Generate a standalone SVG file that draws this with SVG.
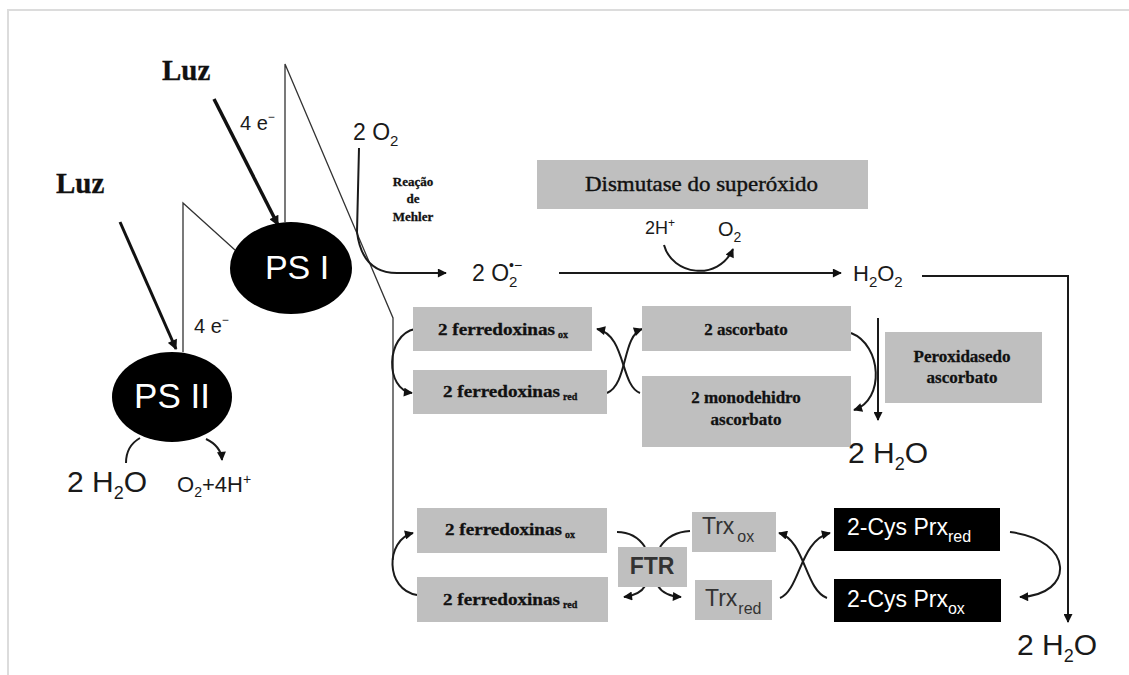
<svg xmlns="http://www.w3.org/2000/svg" width="1129" height="675" viewBox="0 0 1129 675">
<defs>
<marker id="ah" viewBox="0 0 10 10" refX="9" refY="5" markerWidth="10" markerHeight="9" markerUnits="userSpaceOnUse" orient="auto"><path d="M0,0 L10,5 L0,10 z" fill="#111"/></marker>
<marker id="ahL" viewBox="0 0 10 10" refX="9" refY="5" markerWidth="12" markerHeight="10" markerUnits="userSpaceOnUse" orient="auto"><path d="M0,0 L10,5 L0,10 z" fill="#111"/></marker>
<style>
.s{font-family:"Liberation Sans",Arial,sans-serif;fill:#1a1a1a}
.b{font-family:"Liberation Serif","Times New Roman",serif;font-weight:bold;fill:#111;stroke:#111;stroke-width:0.3}
.r{font-family:"Liberation Serif","Times New Roman",serif;fill:#111;stroke:#111;stroke-width:0.4}
.box{fill:#bfbfbf}
.blk{fill:#000}
.ln{fill:none;stroke:#1a1a1a;stroke-width:2}
.thin{fill:none;stroke:#333;stroke-width:1.3}
.w{font-family:"Liberation Sans",Arial,sans-serif;fill:#fff}
</style>
</defs>
<rect x="0" y="0" width="1129" height="675" fill="#fff"/>
<path d="M8,675 V10 H1129" fill="none" stroke="#dcdcdc" stroke-width="2"/>

<g id="connectors">
  <line x1="214" y1="99" x2="278" y2="225" stroke="#111" stroke-width="3.5" marker-end="url(#ahL)"/>
  <line x1="120" y1="222" x2="176" y2="349" stroke="#111" stroke-width="3" marker-end="url(#ahL)"/>
  <path class="thin" d="M285,222 V64 L393,318 V560"/>
  <path class="thin" d="M183,352 V203 L235,250"/>
  <path class="ln" d="M140,438 Q126,446 126,463"/>
  <path class="ln" d="M206,439 Q221,446 222,460" marker-end="url(#ah)"/>
  <path class="ln" d="M359,148 L357,232 Q362,273 397,273 L446,273" marker-end="url(#ah)"/>
  <line class="ln" x1="559" y1="273" x2="841" y2="273" marker-end="url(#ah)"/>
  <path class="ln" d="M664,245 C672,275 718,282 733,249" marker-end="url(#ah)"/>
  <path class="ln" d="M922,276 H1068 V622" marker-end="url(#ah)"/>
  <path class="ln" d="M415,329 C385,335 385,390 412,393" marker-end="url(#ah)"/>
  <path class="ln" d="M607,393 C628,384 622,336 642,329" marker-end="url(#ah)"/>
  <path class="ln" d="M640,393 C620,385 626,335 597,329" marker-end="url(#ah)"/>
  <path class="ln" d="M851,333 C882,345 885,400 854,410" marker-end="url(#ah)"/>
  <line class="ln" x1="878" y1="318" x2="878" y2="420" marker-end="url(#ah)"/>
  <path class="ln" d="M417,595 C385,590 385,540 413,533" marker-end="url(#ah)"/>
  <path class="ln" d="M617,532 Q635,532 645,547"/>
  <path class="ln" d="M690,531 Q670,532 660,547"/>
  <path class="ln" d="M645,586 Q640,595 624,597" marker-end="url(#ah)"/>
  <path class="ln" d="M658,586 Q664,596 681,597" marker-end="url(#ah)"/>
  <path class="ln" d="M780,598 C800,590 800,540 830,533" marker-end="url(#ah)"/>
  <path class="ln" d="M827,598 C805,590 805,540 779,533" marker-end="url(#ah)"/>
  <path class="ln" d="M1010,532 C1075,540 1075,595 1020,597" marker-end="url(#ah)"/>
</g>

<g id="luz1"><text class="b" x="162" y="80" font-size="29">Luz</text></g>
<g id="luz2"><text class="b" x="56" y="193" font-size="29">Luz</text></g>
<g id="ps1"><ellipse cx="291" cy="268" rx="61" ry="46" class="blk"/><text class="w" x="297" y="279" font-size="34" text-anchor="middle">PS I</text></g>
<g id="ps2"><ellipse cx="172" cy="397" rx="60" ry="45" class="blk"/><text class="w" x="172" y="408" font-size="35" text-anchor="middle">PS II</text></g>
<g id="e1"><text class="s" x="240" y="130" font-size="20">4 e<tspan font-size="12" dy="-9">−</tspan></text></g>
<g id="e2"><text class="s" x="194" y="333" font-size="20">4 e<tspan font-size="12" dy="-9">−</tspan></text></g>
<g id="h2o-left"><text class="s" x="67" y="492" font-size="30">2 H<tspan font-size="18" dy="7">2</tspan><tspan dy="-7">O</tspan></text></g>
<g id="o2-4h"><text class="s" x="177" y="492" font-size="22">O<tspan font-size="14" dy="5">2</tspan><tspan dy="-5">+4H</tspan><tspan font-size="14" dy="-8">+</tspan></text></g>
<g id="o2-top"><text class="s" x="353" y="140" font-size="23">2 O<tspan font-size="15" dy="6">2</tspan></text></g>
<g id="mehler">
  <text class="b" x="413" y="186" font-size="13" text-anchor="middle">Reação</text>
  <text class="b" x="413" y="203" font-size="13" text-anchor="middle">de</text>
  <text class="b" x="413" y="221" font-size="13" text-anchor="middle">Mehler</text>
</g>
<g id="superoxide"><text class="s" x="472" y="281" font-size="23">2 O<tspan font-size="15" dy="6">2</tspan><tspan font-size="14" x="509" dy="-17">•−</tspan></text></g>
<g id="h2o2"><text class="s" x="853" y="281" font-size="22">H<tspan font-size="15" dy="6">2</tspan><tspan dy="-6">O</tspan><tspan font-size="15" dy="6">2</tspan></text></g>
<g id="dismutase"><rect class="box" x="537" y="160" width="331" height="49"/><text class="r" x="585" y="191" font-size="21" textLength="233" lengthAdjust="spacingAndGlyphs">Dismutase do superóxido</text></g>
<g id="hplus"><text class="s" x="645" y="234" font-size="18">2H<tspan font-size="12" dy="-7">+</tspan></text></g>
<g id="o2-sod"><text class="s" x="718" y="236" font-size="20">O<tspan font-size="14" dy="6">2</tspan></text></g>

<g id="fdx-ox1"><rect class="box" x="413" y="307" width="179" height="44"/><text class="b" x="438" y="335" font-size="17"><tspan textLength="117" lengthAdjust="spacingAndGlyphs">2 ferredoxinas</tspan><tspan font-size="10" dx="3" dy="3">ox</tspan></text></g>
<g id="fdx-red1"><rect class="box" x="413" y="370" width="194" height="44"/><text class="b" x="443" y="397" font-size="17"><tspan textLength="117" lengthAdjust="spacingAndGlyphs">2 ferredoxinas</tspan><tspan font-size="10" dx="3" dy="3">red</tspan></text></g>
<g id="asc"><rect class="box" x="642" y="306" width="209" height="45"/><text class="b" x="746" y="335" font-size="17" text-anchor="middle">2 ascorbato</text></g>
<g id="mdha"><rect class="box" x="642" y="376" width="209" height="71"/><text class="b" x="746" y="403" font-size="17" text-anchor="middle">2 monodehidro</text><text class="b" x="746" y="425" font-size="17" text-anchor="middle">ascorbato</text></g>
<g id="apx"><rect class="box" x="885" y="332" width="157" height="71"/><text class="b" x="962" y="362" font-size="17" text-anchor="middle">Peroxidasedo</text><text class="b" x="962" y="383" font-size="17" text-anchor="middle">ascorbato</text></g>
<g id="h2o-mid"><text class="s" x="848" y="463" font-size="30">2 H<tspan font-size="18" dy="7">2</tspan><tspan dy="-7">O</tspan></text></g>

<g id="fdx-ox2"><rect class="box" x="417" y="508" width="190" height="45"/><text class="b" x="445" y="535" font-size="17"><tspan textLength="117" lengthAdjust="spacingAndGlyphs">2 ferredoxinas</tspan><tspan font-size="10" dx="3" dy="3">ox</tspan></text></g>
<g id="fdx-red2"><rect class="box" x="417" y="577" width="191" height="45"/><text class="b" x="443" y="605" font-size="17"><tspan textLength="117" lengthAdjust="spacingAndGlyphs">2 ferredoxinas</tspan><tspan font-size="10" dx="3" dy="3">red</tspan></text></g>
<g id="ftr"><rect class="box" x="618" y="547" width="69" height="40"/><text class="s" x="652" y="574" font-size="23" text-anchor="middle" style="fill:#333;font-weight:bold">FTR</text></g>
<g id="trx-ox"><rect class="box" x="692" y="512" width="84" height="40"/><text class="s" x="702" y="534" font-size="23" style="fill:#333">Trx<tspan font-size="16" dx="3" dy="8">ox</tspan></text></g>
<g id="trx-red"><rect class="box" x="695" y="580" width="77" height="40"/><text class="s" x="705" y="606" font-size="23" style="fill:#333">Trx<tspan font-size="16" dx="1" dy="8">red</tspan></text></g>
<g id="prx-red"><rect class="blk" x="834" y="508" width="166" height="43"/><text class="w" x="847" y="535" font-size="23">2-Cys Prx<tspan font-size="16" dy="7">red</tspan></text></g>
<g id="prx-ox"><rect class="blk" x="834" y="579" width="167" height="43"/><text class="w" x="847" y="607" font-size="23">2-Cys Prx<tspan font-size="16" dy="7">ox</tspan></text></g>
<g id="h2o-right"><text class="s" x="1017" y="655" font-size="30">2 H<tspan font-size="18" dy="7">2</tspan><tspan dy="-7">O</tspan></text></g>
</svg>
